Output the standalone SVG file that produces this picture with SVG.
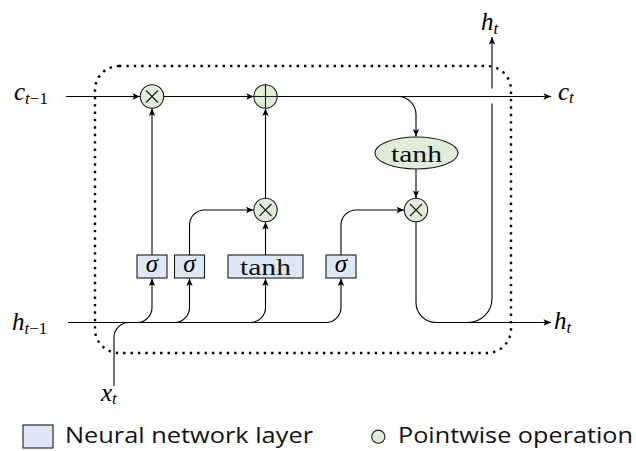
<svg xmlns="http://www.w3.org/2000/svg" width="636" height="451" viewBox="0 0 636 451">
  <defs>
    <marker id="arrow" viewBox="-8 -4 9 8" refX="0" refY="0" markerWidth="9" markerHeight="8" markerUnits="userSpaceOnUse" orient="auto">
      <path d="M0,0 L-7.5,-3.2 L-5.8,0 L-7.5,3.2 Z" fill="#000"/>
    </marker>
    <style>
      .wire { fill: none; stroke: #000; stroke-width: 1.1; }
      .arr { marker-end: url(#arrow); }
      .op { fill: #dfeed6; stroke: #1a1a1a; stroke-width: 1.1; }
      .sym { stroke: #1a1a1a; stroke-width: 1.1; fill: none; }
      .layer { fill: #dce8f5; stroke: #1a1a1a; stroke-width: 1.1; }
      .math { font-family: "Liberation Serif", "DejaVu Serif", serif; font-style: italic; font-size: 25px; fill: #000; }
      .sub { font-size: 17px; }
      .up { font-style: normal; }
      .fn { font-family: "Liberation Serif", "DejaVu Serif", serif; font-size: 23px; fill: #111; }
      .legend { font-family: "Open Sans", "Noto Sans", sans-serif; font-size: 22px; fill: #111; }
      .cell { fill: none; stroke: #000; stroke-width: 2.4; stroke-dasharray: 2.4 5; }
    </style>
  </defs>

  <!-- cell boundary -->
  <rect class="cell" x="95" y="66" width="416" height="287" rx="24" ry="24"/>

  <!-- connectors -->
  <g id="connectors">
    <!-- cell state -->
    <path class="wire arr" d="M66,96.5 H140"/>
    <path class="wire arr" d="M163.7,96.5 H253.8"/>
    <path class="wire arr" d="M277.2,96.5 H551"/>
    <path class="wire arr" d="M398,96.5 A18,18 0 0 1 416,114.5 V136.5"/>
    <path class="wire arr" d="M416,169 V198"/>
    <!-- hidden state / input -->
    <path class="wire arr" d="M68,322.5 H326 A15,15 0 0 0 341,307.5 V278.5"/>
    <path class="wire" d="M114,386 V337.5 A15,15 0 0 1 129,322.5 H326"/>
    <path class="wire arr" d="M137,322.5 A15,15 0 0 0 152,307.5 V278.5"/>
    <path class="wire arr" d="M174.5,322.5 A15,15 0 0 0 189.5,307.5 V278.5"/>
    <path class="wire arr" d="M250.5,322.5 A15,15 0 0 0 265.5,307.5 V278.5"/>
    <!-- gate outputs -->
    <path class="wire arr" d="M152,255 V108.5"/>
    <path class="wire arr" d="M189.5,255 V225 A15,15 0 0 1 204.5,210 H253.5"/>
    <path class="wire arr" d="M265.5,255 V222"/>
    <path class="wire arr" d="M265.5,198.3 V108.5"/>
    <path class="wire arr" d="M341,255 V225 A15,15 0 0 1 356,210 H404"/>
    <!-- output -->
    <path class="wire arr" d="M416,221.7 V302.5 A20,20 0 0 0 436,322.5 H551"/>
    <path class="wire" d="M468,322.5 A24,24 0 0 0 492,298.5 V103.5"/>
    <path class="wire arr" d="M492,88.5 V37"/>
  </g>

  <!-- pointwise operations -->
  <g id="mul-forget">
    <circle class="op" cx="152" cy="96.5" r="11.7"/>
    <path class="sym" d="M146,90.5 L158,102.5 M158,90.5 L146,102.5"/>
  </g>
  <g id="add-cell">
    <circle class="op" cx="265.5" cy="96.5" r="11.7"/>
    <path class="sym" d="M265.5,84.8 V108.2 M253.8,96.5 H277.2"/>
  </g>
  <g id="mul-input">
    <circle class="op" cx="265.5" cy="210" r="11.7"/>
    <path class="sym" d="M259.5,204 L271.5,216 M271.5,204 L259.5,216"/>
  </g>
  <g id="mul-output">
    <circle class="op" cx="416" cy="210" r="11.7"/>
    <path class="sym" d="M410,204 L422,216 M422,204 L410,216"/>
  </g>
  <g id="tanh-cell">
    <ellipse class="op" cx="416.5" cy="153" rx="41.5" ry="16"/>
    <text class="fn" x="416.5" y="161.5" text-anchor="middle" textLength="51" lengthAdjust="spacingAndGlyphs">tanh</text>
  </g>

  <!-- neural network layers -->
  <g id="sigma-forget">
    <rect class="layer" x="137" y="255" width="30" height="23"/>
    <text class="math" x="152" y="272" text-anchor="middle">σ</text>
  </g>
  <g id="sigma-input">
    <rect class="layer" x="174.5" y="255" width="30" height="23"/>
    <text class="math" x="189.5" y="272" text-anchor="middle">σ</text>
  </g>
  <g id="tanh-candidate">
    <rect class="layer" x="228" y="255" width="75" height="23"/>
    <text class="fn" x="265.5" y="275" text-anchor="middle" textLength="51" lengthAdjust="spacingAndGlyphs">tanh</text>
  </g>
  <g id="sigma-output">
    <rect class="layer" x="326" y="255" width="30" height="23"/>
    <text class="math" x="341" y="272" text-anchor="middle">σ</text>
  </g>

  <!-- inputs and outputs -->
  <g id="label-c-prev">
    <text class="math" x="14" y="100">c<tspan class="sub" dy="4">t</tspan><tspan class="sub up">−1</tspan></text>
  </g>
  <g id="label-h-prev">
    <text class="math" x="12" y="330">h<tspan class="sub" dy="4">t</tspan><tspan class="sub up">−1</tspan></text>
  </g>
  <g id="label-x">
    <text class="math" x="101" y="401">x<tspan class="sub" dy="3">t</tspan></text>
  </g>
  <g id="label-c-next">
    <text class="math" x="558" y="100">c<tspan class="sub" dy="3">t</tspan></text>
  </g>
  <g id="label-h-next">
    <text class="math" x="554" y="329">h<tspan class="sub" dy="4">t</tspan></text>
  </g>
  <g id="label-h-top">
    <text class="math" x="481" y="30">h<tspan class="sub" dy="4">t</tspan></text>
  </g>

  <!-- legend -->
  <g id="legend-layer">
    <rect class="layer" x="23" y="425" width="30" height="23"/>
    <text class="legend" x="65" y="443" textLength="248" lengthAdjust="spacingAndGlyphs">Neural network layer</text>
  </g>
  <g id="legend-pointwise">
    <circle class="op" cx="378.3" cy="436.7" r="6.6"/>
    <text class="legend" x="398" y="443" textLength="235" lengthAdjust="spacingAndGlyphs">Pointwise operation</text>
  </g>
</svg>
